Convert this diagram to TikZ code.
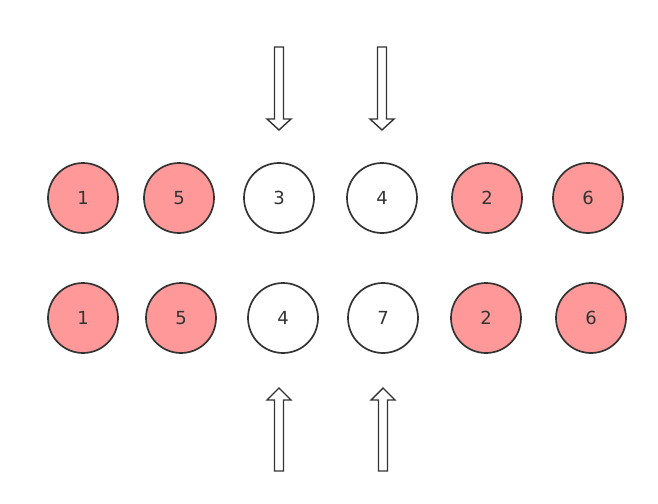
\documentclass[tikz,border=0pt]{standalone}
\usepackage{xcolor}
\usepackage{fontspec}
\setmainfont{DejaVu Sans}
\usepackage{tikz}

\definecolor{ballpink}{HTML}{FF9999}
\definecolor{inkgray}{HTML}{333333}

\tikzset{
    ball/.style={circle, draw=inkgray, line width=1.7pt, minimum size=70pt,
        inner sep=0pt, text=inkgray, font=\fontsize{18}{18}\selectfont},
    hot/.style={ball, fill=ballpink},
    cold/.style={ball, fill=white},
    blockarrow/.style={draw=inkgray, line width=1.4pt, fill=white, line join=miter}
}

\begin{document}
\begin{tikzpicture}[x=1pt, y=-1pt]
        \useasboundingbox (0,0) rectangle (658,503);

        % Top row
        \node[hot]  (t1) at (83,198)  {1};
        \node[hot]  (t5) at (179,198) {5};
        \node[cold] (t3) at (279,198) {3};
        \node[cold] (t4) at (382,198) {4};
        \node[hot]  (t2) at (487,198) {2};
        \node[hot]  (t6) at (588,198) {6};

        % Bottom row
        \node[hot]  (b1) at (83,318)  {1};
        \node[hot]  (b5) at (181,318) {5};
        \node[cold] (b4) at (283,318) {4};
        \node[cold] (b7) at (383,318) {7};
        \node[hot]  (b2) at (486,318) {2};
        \node[hot]  (b6) at (591,318) {6};

        % Arrows pointing down
        \foreach \cx in {279,382} {
            \draw[blockarrow] (\cx-4.5,47) -- (\cx+4.5,47) -- (\cx+4.5,119)
                -- (\cx+12,119) -- (\cx,130) -- (\cx-12,119) -- (\cx-4.5,119) -- cycle;
        }

        % Arrows pointing up
        \foreach \cx in {279,383} {
            \draw[blockarrow] (\cx-4.5,471) -- (\cx+4.5,471) -- (\cx+4.5,400)
                -- (\cx+12,400) -- (\cx,388) -- (\cx-12,400) -- (\cx-4.5,400) -- cycle;
        }
    \end{tikzpicture}
\end{document}
